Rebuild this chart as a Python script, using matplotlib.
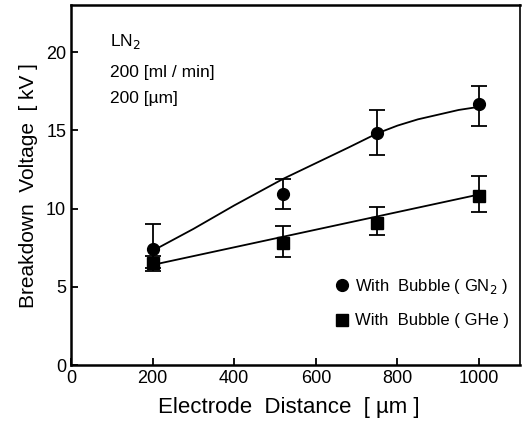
import numpy as np
import matplotlib
matplotlib.use("Agg")
import matplotlib.pyplot as plt

plt.rcParams['font.family'] = ['Liberation Sans', 'DejaVu Sans']

# Data
distance = [200, 520, 750, 1000]
gn2_mean = [7.4, 10.9, 14.8, 16.7]
gn2_low = [6.2, 10.0, 13.4, 15.3]
gn2_high = [9.0, 11.9, 16.3, 17.8]
ghe_mean = [6.5, 7.8, 9.1, 10.8]
ghe_low = [6.0, 6.9, 8.3, 9.8]
ghe_high = [7.0, 8.9, 10.1, 12.1]

# fitted curves as drawn in the picture
gn2_fit_x = [200, 300, 400, 520, 600, 680, 750, 800, 850, 900, 950, 1000]
gn2_fit_y = [7.3, 8.7, 10.2, 11.9, 12.9, 13.9, 14.8, 15.3, 15.7, 16.0, 16.3, 16.5]
ghe_fit_x = [200, 1000]
ghe_fit_y = [6.4, 10.9]

fig = plt.figure(figsize=(5.22, 4.24), dpi=100)
ax = fig.add_axes([0.136, 0.139, 0.860, 0.849])

ax.plot(gn2_fit_x, gn2_fit_y, color='black', lw=1.3)
ax.plot(ghe_fit_x, ghe_fit_y, color='black', lw=1.3)

x = np.array(distance)
err1 = [np.array(gn2_mean) - np.array(gn2_low), np.array(gn2_high) - np.array(gn2_mean)]
err2 = [np.array(ghe_mean) - np.array(ghe_low), np.array(ghe_high) - np.array(ghe_mean)]
ax.errorbar(x, gn2_mean, yerr=err1, fmt='none', ecolor='black', capsize=5.5,
            elinewidth=1.3, capthick=1.3)
ax.errorbar(x, ghe_mean, yerr=err2, fmt='none', ecolor='black', capsize=5.5,
            elinewidth=1.3, capthick=1.3)
ax.plot(x, gn2_mean, 'o', color='black', ms=8.5, label='With  Bubble ( GN$_2$ )')
ax.plot(x, ghe_mean, 's', color='black', ms=8.5, label='With  Bubble ( GHe )')

ax.set_xlim(0, 1100)
ax.set_ylim(0, 23)
ax.set_xticks([0, 200, 400, 600, 800, 1000])
ax.set_yticks([0, 5, 10, 15, 20])
ax.tick_params(direction='in', length=5, width=1.3, labelsize=13, top=False, right=False)
for s in ax.spines.values():
    s.set_linewidth(1.8)
ax.spines['right'].set_linewidth(1.2)

ax.set_xlabel('Electrode  Distance  [ µm ]', fontsize=16, labelpad=6)
ax.xaxis.set_label_coords(0.485, -0.09, transform=ax.transAxes)
ax.set_ylabel('Breakdown  Voltage  [ kV ]', fontsize=15, labelpad=6)

ax.text(0.087, 0.885, 'LN$_2$', transform=ax.transAxes, fontsize=12.5)
ax.text(0.087, 0.80, '200 [ml / min]', transform=ax.transAxes, fontsize=12.5)
ax.text(0.087, 0.727, '200 [µm]', transform=ax.transAxes, fontsize=12.5)

ax.legend(loc='lower right', bbox_to_anchor=(1.01, 0.06), frameon=False, fontsize=12,
          handletextpad=0.3, labelspacing=1.05, handlelength=1.0)

fig.savefig('out.png', dpi=100)
